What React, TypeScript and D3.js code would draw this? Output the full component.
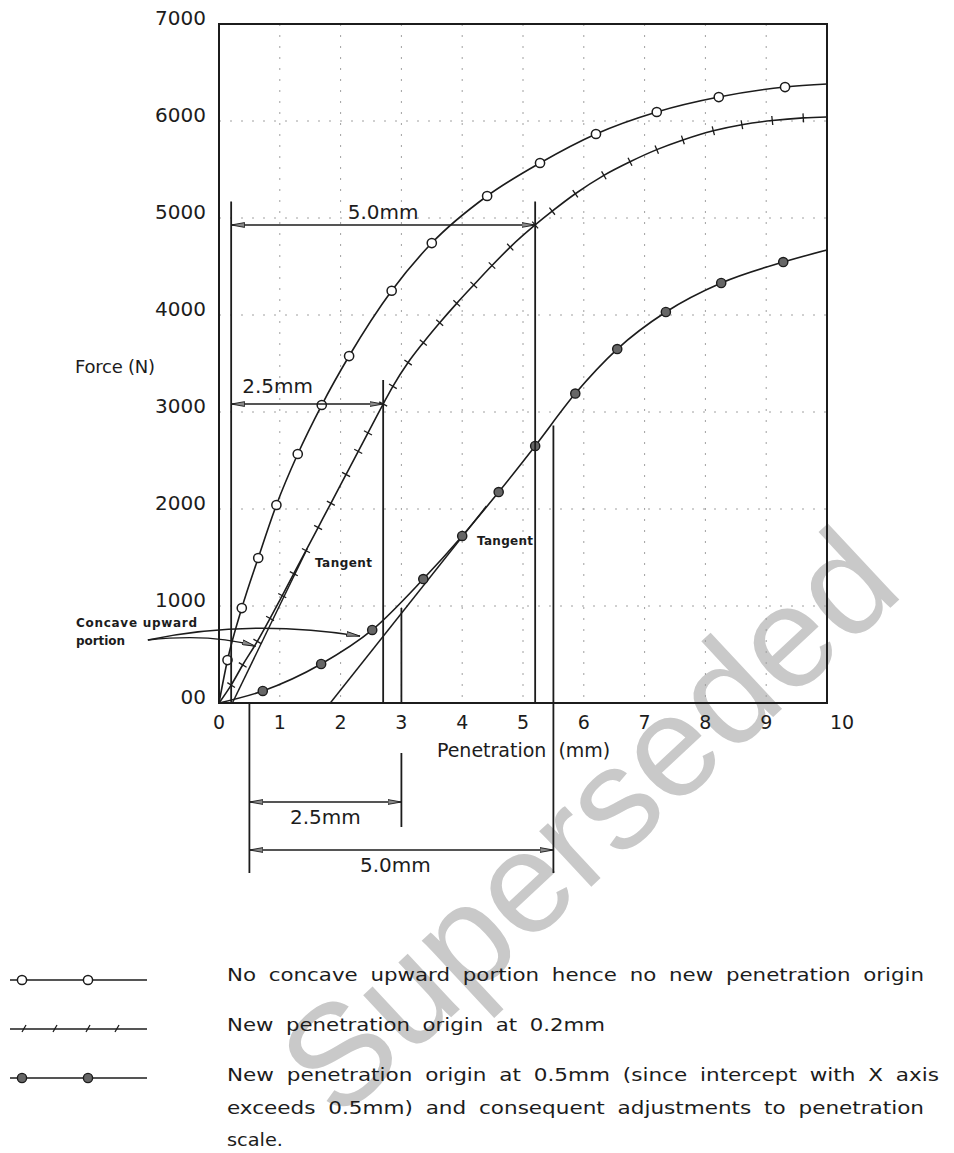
import React from "react";
import * as d3 from "d3";

// ---------- data ----------
const X_TICKS = [0, 1, 2, 3, 4, 5, 6, 7, 8, 9, 10];
const X_TICK_LABELS = ["0", "1", "2", "3", "4", "5", "6", "7", "8", "9", "10"];
const Y_TICKS = [0, 1000, 2000, 3000, 4000, 5000, 6000, 7000];
const Y_TICK_LABELS = ["00", "1000", "2000", "3000", "4000", "5000", "6000", "7000"];
const GRID_X = [1, 2, 3, 4, 5, 6, 7, 8, 9];
const GRID_Y = [1000, 2000, 3000, 4000, 5000, 6000];

// No concave upward portion (open circles)
const SERIES_A_X = [0, 0.14, 0.375, 0.645, 0.944, 1.295, 1.69, 2.14, 2.84, 3.5, 4.41, 5.28, 6.2, 7.2, 8.22, 9.31, 10];
const SERIES_A_F = [0, 443, 979, 1495, 2041, 2567, 3072, 3577, 4250, 4742, 5227, 5567, 5866, 6093, 6247, 6350, 6381];

// New origin at 0.2 mm (tick marks)
const SERIES_B_X = [0, 0.2, 0.39, 0.63, 0.84, 1.04, 1.23, 1.43, 1.63, 1.84, 2.09, 2.29, 2.45, 2.7, 2.86, 3.11, 3.36, 3.63, 3.91, 4.19, 4.49, 4.79, 5.2, 5.48, 5.86, 6.33, 6.76, 7.2, 7.63, 8.13, 8.6, 9.1, 9.61, 10];
const SERIES_B_F = [0, 185, 392, 635, 872, 1107, 1333, 1571, 1809, 2059, 2356, 2594, 2785, 3082, 3265, 3510, 3715, 3920, 4120, 4310, 4510, 4700, 4928, 5070, 5250, 5440, 5580, 5705, 5805, 5900, 5962, 6005, 6032, 6042];

// New origin at 0.5 mm (filled circles)
const SERIES_C_X = [0, 0.72, 1.68, 2.52, 3.36, 4.0, 4.6, 5.2, 5.86, 6.55, 7.35, 8.26, 9.28, 10];
const SERIES_C_F = [0, 124, 402, 753, 1278, 1722, 2175, 2650, 3190, 3649, 4031, 4330, 4546, 4670];

const TANGENT_B_X = [0.22, 1.45];
const TANGENT_B_F = [0, 1590];
const TANGENT_C_X = [1.83, 4.4];
const TANGENT_C_F = [0, 2030];

const ORIGIN_B = 0.2;
const ORIGIN_C = 0.5;
const SPAN_25 = 2.5;
const SPAN_50 = 5.0;
const LOAD_B_25 = 3082;
const LOAD_B_50 = 4928;
const LOAD_C_25 = 980;
const LOAD_C_50 = 2860;

const LEGEND_LABELS = [
  "No concave upward portion hence no new penetration origin",
  "New penetration origin at 0.2mm",
  "New penetration origin at 0.5mm (since intercept with X axis",
  "exceeds 0.5mm) and consequent adjustments to penetration",
  "scale.",
];

// ---------- layout ----------
const W = 954;
const H = 1153;
const X0 = 219, X1 = 827, Y0 = 703, Y1 = 24;
const FONT = "'DejaVu Sans', 'Liberation Sans', sans-serif";
const INK = "#1c1c1c";

const x = d3.scaleLinear().domain([0, 10]).range([X0, X1]);
const y = d3.scaleLinear().domain([0, 7000]).range([Y0, Y1]);

const lineGen = d3
  .line<[number, number]>()
  .x((d) => x(d[0]))
  .y((d) => y(d[1]))
  .curve(d3.curveMonotoneX);

const zip = (xs: number[], fs: number[]): [number, number][] => xs.map((v, i) => [v, fs[i]]);

const A = zip(SERIES_A_X, SERIES_A_F);
const B = zip(SERIES_B_X, SERIES_B_F);
const C = zip(SERIES_C_X, SERIES_C_F);

function OpenCircle({ cx, cy }: { cx: number; cy: number }) {
  return <circle cx={cx} cy={cy} r={4.6} fill="#fff" stroke={INK} strokeWidth={1.5} />;
}
function FilledCircle({ cx, cy }: { cx: number; cy: number }) {
  return <circle cx={cx} cy={cy} r={4.6} fill="#666" stroke={INK} strokeWidth={1.4} />;
}

function ticksFor(pts: [number, number][]) {
  const out: JSX.Element[] = [];
  for (let i = 1; i < pts.length - 1; i++) {
    const px = x(pts[i][0]);
    const py = y(pts[i][1]);
    const dx = x(pts[i + 1][0]) - x(pts[i - 1][0]);
    const dy = y(pts[i + 1][1]) - y(pts[i - 1][1]);
    const len = Math.hypot(dx, dy) || 1;
    const nx = -dy / len;
    const ny = dx / len;
    const L = 4.5;
    out.push(
      <line key={i} x1={px - nx * L} y1={py - ny * L} x2={px + nx * L} y2={py + ny * L} stroke={INK} strokeWidth={1.3} />
    );
  }
  return out;
}

function DimArrow({ xa, xb, yy }: { xa: number; xb: number; yy: number }) {
  return (
    <line x1={xa} y1={yy} x2={xb} y2={yy} stroke={INK} strokeWidth={1.5} markerStart="url(#arrow)" markerEnd="url(#arrow)" />
  );
}

export default function App() {
  const yb = Y0;
  const legendText = { fontSize: 18, fill: INK, wordSpacing: 5, lengthAdjust: "spacingAndGlyphs" as const };
  return (
    <svg
      width={W}
      height={H}
      viewBox={`0 0 ${W} ${H}`}
      style={{ position: "absolute", left: 0, top: 0, display: "block", background: "#fff" }}
      fontFamily={FONT}
    >
      <defs>
        <marker id="arrow" viewBox="0 0 14 6" refX="13.5" refY="3" markerWidth="14" markerHeight="6" markerUnits="userSpaceOnUse" orient="auto-start-reverse">
          <path d="M0,0.6 L13.5,3 L0,5.4 Z" fill="#8a8a8a" stroke={INK} strokeWidth={0.9} />
        </marker>
      </defs>

      {/* watermark */}
      <text
        x={622}
        y={858}
        transform="rotate(-43 622 858)"
        textAnchor="middle"
        fontFamily="'Liberation Sans', Arial, sans-serif"
        fontSize={144}
        fill="#c9c9c9"
      >
        Superseded
      </text>

      {/* grid */}
      {GRID_Y.map((v) => (
        <line key={"gy" + v} x1={X0} x2={X1} y1={y(v)} y2={y(v)} stroke="#a0a0a0" strokeWidth={1} strokeDasharray="2 9" />
      ))}
      {GRID_X.map((v) => (
        <line key={"gx" + v} x1={x(v)} x2={x(v)} y1={Y1} y2={Y0} stroke="#a0a0a0" strokeWidth={1} strokeDasharray="2 9" />
      ))}

      {/* frame */}
      <rect x={X0} y={Y1} width={X1 - X0} height={Y0 - Y1} fill="none" stroke={INK} strokeWidth={2} />

      {/* y tick labels */}
      {Y_TICKS.map((v, i) => (
        <text key={"yt" + v} x={206} y={y(v) + 1} textAnchor="end" fontSize={20} fill={INK}>
          {Y_TICK_LABELS[i]}
        </text>
      ))}
      {/* x tick labels */}
      {X_TICKS.map((v, i) => (
        <text
          key={"xt" + v}
          x={v === 10 ? x(v) + 3 : x(v)}
          y={729}
          textAnchor={v === 10 ? "start" : "middle"}
          fontSize={19}
          fill={INK}
        >
          {X_TICK_LABELS[i]}
        </text>
      ))}

      {/* axis titles */}
      <text x={75} y={373} fontSize={18} fill={INK} textLength={80}>
        Force (N)
      </text>
      <text x={x(5.5) - 7} y={757} textAnchor="end" fontSize={19} fill={INK}>
        Penetration
      </text>
      <text x={x(5.5) + 5} y={757} fontSize={19} fill={INK}>
        (mm)
      </text>

      {/* tangents */}
      <line x1={x(TANGENT_B_X[0])} y1={y(TANGENT_B_F[0])} x2={x(TANGENT_B_X[1])} y2={y(TANGENT_B_F[1])} stroke={INK} strokeWidth={1.5} />
      <line x1={x(TANGENT_C_X[0])} y1={y(TANGENT_C_F[0])} x2={x(TANGENT_C_X[1])} y2={y(TANGENT_C_F[1])} stroke={INK} strokeWidth={1.5} />
      <text x={315} y={567} fontSize={12} fontWeight="bold" fill={INK} textLength={57}>
        Tangent
      </text>
      <text x={477} y={545} fontSize={12} fontWeight="bold" fill={INK} textLength={56}>
        Tangent
      </text>

      {/* curves */}
      <path d={lineGen(A) || ""} fill="none" stroke={INK} strokeWidth={1.6} />
      <path d={lineGen(B) || ""} fill="none" stroke={INK} strokeWidth={1.6} />
      <path d={lineGen(C) || ""} fill="none" stroke={INK} strokeWidth={1.6} />
      {ticksFor(B)}
      {A.slice(1, -1).map((d, i) => (
        <OpenCircle key={"a" + i} cx={x(d[0])} cy={y(d[1])} />
      ))}
      {C.slice(1, -1).map((d, i) => (
        <FilledCircle key={"c" + i} cx={x(d[0])} cy={y(d[1])} />
      ))}

      {/* dimensions for curve B (origin 0.2 mm) */}
      <line x1={x(ORIGIN_B)} x2={x(ORIGIN_B)} y1={y(5170)} y2={yb} stroke={INK} strokeWidth={1.8} />
      <line x1={x(ORIGIN_B + SPAN_50)} x2={x(ORIGIN_B + SPAN_50)} y1={y(5170)} y2={yb} stroke={INK} strokeWidth={1.8} />
      <line x1={x(ORIGIN_B + SPAN_25)} x2={x(ORIGIN_B + SPAN_25)} y1={y(3330)} y2={yb} stroke={INK} strokeWidth={1.8} />
      <DimArrow xa={x(ORIGIN_B)} xb={x(ORIGIN_B + SPAN_50)} yy={y(LOAD_B_50)} />
      <DimArrow xa={x(ORIGIN_B)} xb={x(ORIGIN_B + SPAN_25)} yy={y(LOAD_B_25)} />
      <text x={(x(ORIGIN_B) + x(ORIGIN_B + SPAN_50)) / 2} y={y(LOAD_B_50) - 6} textAnchor="middle" fontSize={20} fill={INK}>
        5.0mm
      </text>
      <text x={x(ORIGIN_B) + 11} y={y(LOAD_B_25) - 11} fontSize={20} fill={INK}>
        2.5mm
      </text>

      {/* dimensions for curve C (origin 0.5 mm) */}
      <line x1={x(ORIGIN_C)} x2={x(ORIGIN_C)} y1={yb} y2={yb + 170} stroke={INK} strokeWidth={1.8} />
      <line x1={x(ORIGIN_C + SPAN_25)} x2={x(ORIGIN_C + SPAN_25)} y1={y(LOAD_C_25)} y2={yb} stroke={INK} strokeWidth={1.8} />
      <line x1={x(ORIGIN_C + SPAN_25)} x2={x(ORIGIN_C + SPAN_25)} y1={yb + 50} y2={yb + 124} stroke={INK} strokeWidth={1.8} />
      <line x1={x(ORIGIN_C + SPAN_50)} x2={x(ORIGIN_C + SPAN_50)} y1={y(LOAD_C_50)} y2={yb + 170} stroke={INK} strokeWidth={1.8} />
      <DimArrow xa={x(ORIGIN_C)} xb={x(ORIGIN_C + SPAN_25)} yy={yb + 99} />
      <DimArrow xa={x(ORIGIN_C)} xb={x(ORIGIN_C + SPAN_50)} yy={yb + 147} />
      <text x={(x(ORIGIN_C) + x(ORIGIN_C + SPAN_25)) / 2} y={yb + 121} textAnchor="middle" fontSize={20} fill={INK}>
        2.5mm
      </text>
      <text x={(x(ORIGIN_C) + x(ORIGIN_C + SPAN_50)) / 2 - 6} y={yb + 169} textAnchor="middle" fontSize={20} fill={INK}>
        5.0mm
      </text>

      {/* concave upward annotation */}
      <text x={76} y={627} fontSize={12} fontWeight="bold" fill={INK} textLength={121}>
        Concave upward
      </text>
      <text x={76} y={645} fontSize={12} fontWeight="bold" fill={INK} textLength={49}>
        portion
      </text>
      <path
        d={`M${x(-1.17)},${y(650)} Q${x(0.5)},${y(870)} ${x(2.32)},${y(690)}`}
        fill="none"
        stroke={INK}
        strokeWidth={1.4}
        markerEnd="url(#arrow)"
      />
      <path
        d={`M${x(-1.17)},${y(650)} Q${x(-0.1)},${y(720)} ${x(0.6)},${y(585)}`}
        fill="none"
        stroke={INK}
        strokeWidth={1.4}
        markerEnd="url(#arrow)"
      />

      {/* legend */}
      <g>
        <line x1={10} x2={147} y1={980} y2={980} stroke={INK} strokeWidth={1.3} />
        <OpenCircle cx={22} cy={980} />
        <OpenCircle cx={88} cy={980} />
        <line x1={10} x2={147} y1={1029} y2={1029} stroke={INK} strokeWidth={1.3} />
        {[24, 55, 88, 117].map((t) => (
          <line key={"lt" + t} x1={t - 2} y1={1032} x2={t + 2} y2={1025} stroke={INK} strokeWidth={1.3} />
        ))}
        <line x1={10} x2={147} y1={1078} y2={1078} stroke={INK} strokeWidth={1.3} />
        <FilledCircle cx={22} cy={1078} />
        <FilledCircle cx={88} cy={1078} />
      </g>
      <text x={227} y={981} {...legendText} textLength={697}>
        {LEGEND_LABELS[0]}
      </text>
      <text x={227} y={1031} {...legendText} textLength={378}>
        {LEGEND_LABELS[1]}
      </text>
      <text x={227} y={1081} {...legendText} textLength={712}>
        {LEGEND_LABELS[2]}
      </text>
      <text x={227} y={1114} {...legendText} textLength={697}>
        {LEGEND_LABELS[3]}
      </text>
      <text x={227} y={1146} {...legendText} textLength={56}>
        {LEGEND_LABELS[4]}
      </text>
    </svg>
  );
}
